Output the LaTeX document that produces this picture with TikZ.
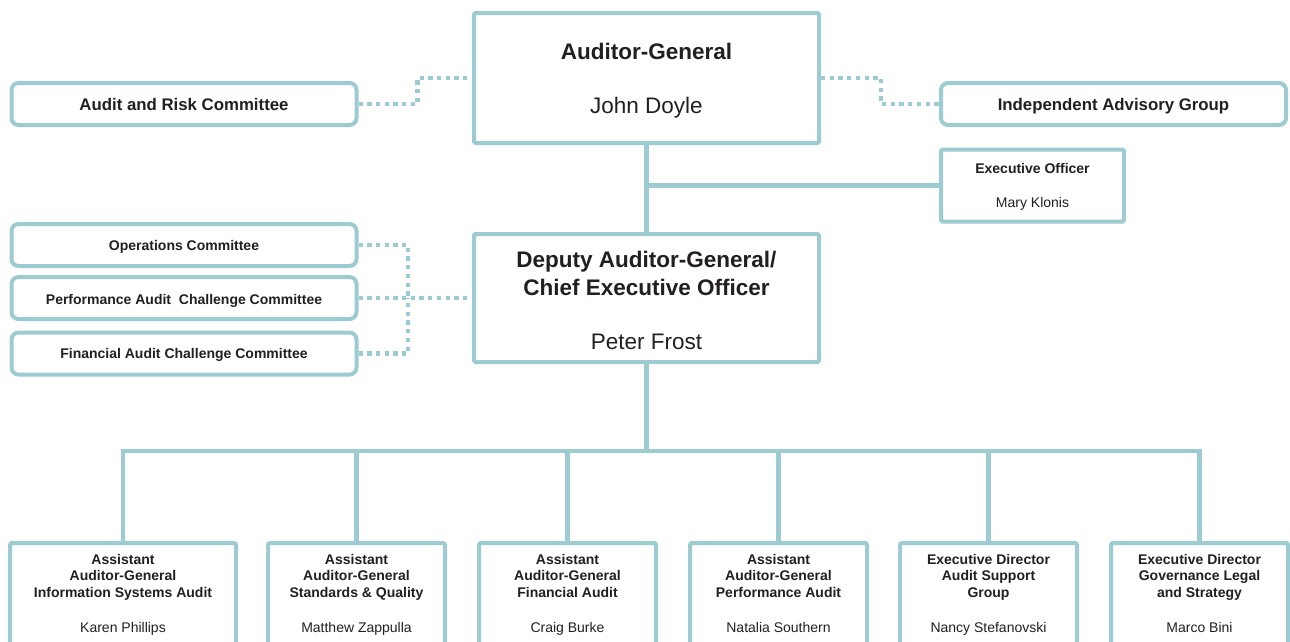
\documentclass[tikz,border=0pt]{standalone}
\usepackage{fontspec}
\setmainfont{Liberation Sans}
\definecolor{orgline}{RGB}{157,203,210}
\definecolor{ink}{RGB}{35,31,32}
\tikzset{
  box/.style={draw=orgline, line width=4pt, fill=white, inner sep=0pt},
  mainbox/.style={box, rounded corners=1.5pt, minimum width=345pt, minimum height=130pt},
  committee/.style={box, rounded corners=7pt, minimum width=345pt, minimum height=42pt},
  unitbox/.style={box, rounded corners=2pt, minimum height=150pt},
  conn/.style={draw=orgline, line width=4.3pt, line cap=rect},
  dots/.style={draw=orgline, line width=4.3pt, dash pattern=on 4.3pt off 4.4pt},
  bigbold/.style={text=ink, inner sep=0pt, anchor=base, font=\bfseries\fontsize{22.5}{26}\selectfont},
  bigname/.style={text=ink, inner sep=0pt, anchor=base, font=\fontsize{22.5}{26}\selectfont},
  comlabel/.style={text=ink, inner sep=0pt, anchor=base, font=\bfseries\fontsize{14}{16.5}\selectfont},
  toplabel/.style={text=ink, inner sep=0pt, anchor=base, font=\bfseries\fontsize{16.8}{20}\selectfont},
  smallname/.style={text=ink, inner sep=0pt, anchor=base, font=\fontsize{14}{16.5}\selectfont},
  unittext/.style={text=ink, inner sep=0pt, anchor=north, align=center, font=\fontsize{14}{16.5}\selectfont},
}
\begin{document}
\begin{tikzpicture}[x=1pt,y=-1pt]
\useasboundingbox (0,0) rectangle (1290,641);
\fill[white] (0,0) rectangle (1290,641);

% top level
\node[mainbox] (ag) at (646.5,78) {};
\node[committee] (arc) at (184,104) {};
\node[committee] (iag) at (1113.5,104) {};
\node[box, rounded corners=1.5pt, minimum width=183pt, minimum height=72pt] (eo) at (1032.5,185.5) {};

% deputy level
\node[mainbox, minimum height=128pt] (dag) at (646.5,298) {};
\node[committee] (ops) at (184,245) {};
\node[committee] (perf) at (184,298) {};
\node[committee] (fin) at (184,353.5) {};

% divisions
\node[unitbox, minimum width=226pt, anchor=north] (u1) at (123,541) {};
\node[unitbox, minimum width=177pt, anchor=north] (u2) at (356.5,541) {};
\node[unitbox, minimum width=177pt, anchor=north] (u3) at (567.5,541) {};
\node[unitbox, minimum width=177pt, anchor=north] (u4) at (778.5,541) {};
\node[unitbox, minimum width=177pt, anchor=north] (u5) at (988.5,541) {};
\node[unitbox, minimum width=177pt, anchor=north] (u6) at (1199.5,541) {};

% solid reporting lines
\coordinate (eojoin) at (646.5,185.5);
\coordinate (bus) at (646.5,451);
\draw[conn] (ag.south) -- (dag.north);
\draw[conn] (eojoin) -- (eo.west);
\draw[conn] (dag.south) -- (bus);
\draw[conn] (u1.north |- bus) -- (u6.north |- bus);
\foreach \u in {u1,u2,u3,u4,u5,u6}
  \draw[conn] (\u.north |- bus) -- (\u.north);

% advisory (dotted) lines
\draw[dots] (arc.east) -- ++(59,0) |- (ag.west);
\draw[dots] (ag.east) -- ++(60,0) |- (iag.west);
\coordinate (cjoin) at (408,298);
\draw[dots] (ops.east) -| (cjoin);
\draw[dots] (fin.east) -| (cjoin);
\draw[dots] (perf.east) -- (dag.west);

% labels
\node[bigbold] (agt) at (646.5,59) {Auditor-General};
\node[bigname] (agn) at (646.5,113) {John Doyle};
\node[toplabel] (arct) at (184,110.5) {Audit and Risk Committee};
\node[toplabel] (iagt) at (1113.5,110.5) {Independent Advisory Group};
\node[comlabel] (eot) at (1032.5,173) {Executive Officer};
\node[smallname] (eon) at (1032.5,207) {Mary Klonis};

\node[bigbold] (dagt1) at (646.5,267) {Deputy Auditor-General/};
\node[bigbold] (dagt2) at (646.5,295) {Chief Executive Officer};
\node[bigname] (dagn) at (646.5,349) {Peter Frost};
\node[comlabel] (opst) at (184,250) {Operations Committee};
\node[comlabel] (perft) at (184,304) {Performance Audit\ \ Challenge Committee};
\node[comlabel] (fint) at (184,358.5) {Financial Audit Challenge Committee};

\node[unittext] (u1t) at (123,554) {\textbf{Assistant}\\\textbf{Auditor-General}\\\textbf{Information Systems Audit}\\[18.5pt]Karen Phillips};
\node[unittext] (u2t) at (356.5,554) {\textbf{Assistant}\\\textbf{Auditor-General}\\\textbf{Standards \& Quality}\\[18.5pt]Matthew Zappulla};
\node[unittext] (u3t) at (567.5,554) {\textbf{Assistant}\\\textbf{Auditor-General}\\\textbf{Financial Audit}\\[18.5pt]Craig Burke};
\node[unittext] (u4t) at (778.5,554) {\textbf{Assistant}\\\textbf{Auditor-General}\\\textbf{Performance Audit}\\[18.5pt]Natalia Southern};
\node[unittext] (u5t) at (988.5,554) {\textbf{Executive Director}\\\textbf{Audit Support}\\\textbf{Group}\\[18.5pt]Nancy Stefanovski};
\node[unittext] (u6t) at (1199.5,554) {\textbf{Executive Director}\\\textbf{Governance Legal}\\\textbf{and Strategy}\\[18.5pt]Marco Bini};
\end{tikzpicture}
\end{document}
